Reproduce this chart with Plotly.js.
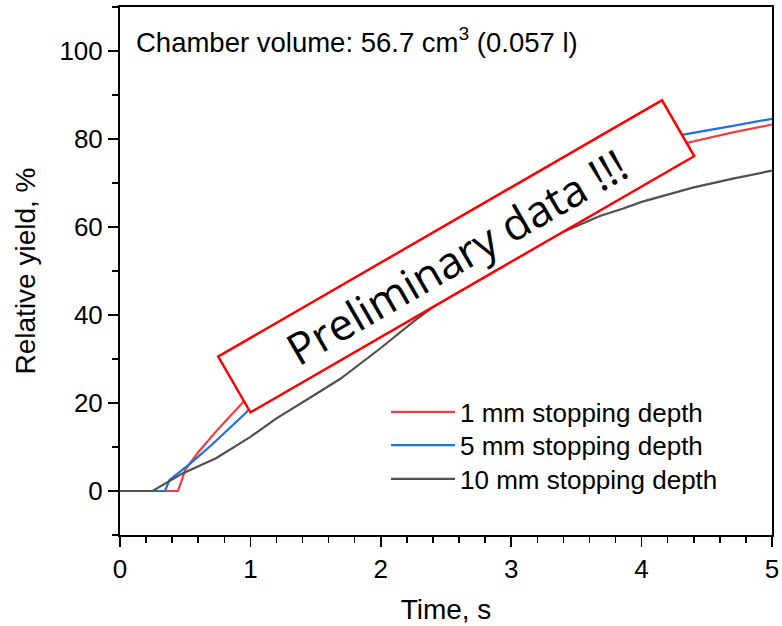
<!DOCTYPE html>
<html>
<head>
<meta charset="utf-8">
<script src="https://cdn.plot.ly/plotly-3.0.1.min.js"></script>
<style>html,body{margin:0;padding:0;background:#fff;}#chart{width:782px;height:626px;}</style>
</head>
<body>
<div id="chart"></div>
<script>
// Series data
const seriesNames = ["1 mm stopping depth", "5 mm stopping depth", "10 mm stopping depth"];
const seriesColors = ["#f23c40", "#1f6fe5", "#505050"];

const x1mm = [0, 0.2, 0.445, 0.5, 0.6, 0.75, 0.94, 1.0, 1.5, 2.0, 2.5, 3.0, 3.5, 4.0, 4.36, 4.7, 5.0];
const y1mm = [0, 0, 0, 4.8, 8.8, 14, 20.2, 22, 33, 44, 54, 63, 70.5, 76, 79.2, 81.5, 83.3];

const x5mm = [0, 0.2, 0.345, 0.38, 0.54, 0.7, 0.97, 1.0, 1.5, 2.0, 2.5, 3.0, 3.5, 4.0, 4.32, 4.7, 5.0];
const y5mm = [0, 0, 0, 2.5, 6.3, 10.4, 17.9, 19, 30, 42, 53, 63, 71, 78, 81, 83, 84.6];

const x10mm = [0, 0.25, 0.48, 0.74, 1.0, 1.2, 1.5, 1.69, 2.0, 2.25, 2.5, 3.0, 3.37, 3.68, 3.86, 4.0, 4.4, 4.7, 5.0];
const y10mm = [0, 0, 4, 7.5, 12.3, 16.5, 22, 25.5, 32.5, 38.5, 44, 53, 58.5, 62.5, 64.2, 65.7, 69, 71, 72.8];

const xTickVals = [0, 1, 2, 3, 4, 5];
const yTickVals = [0, 20, 40, 60, 80, 100];

const xs = [x1mm, x5mm, x10mm];
const ys = [y1mm, y5mm, y10mm];
const legendIds = ["legend", "legend2", "legend3"];
const legendRowY = [0.233, 0.170, 0.106];

const traces = seriesNames.map((n, i) => ({
  x: xs[i], y: ys[i], name: n, type: "scatter", mode: "lines",
  legend: legendIds[i],
  line: {color: seriesColors[i], width: 2.2}
}));

const fontFam = "Liberation Sans, Arial, sans-serif";

const layout = {
  width: 782, height: 626,
  margin: {l: 120, r: 10, t: 7, b: 91},
  paper_bgcolor: "#fff", plot_bgcolor: "#fff",
  font: {family: fontFam, color: "#000", size: 26},
  showlegend: true,
  xaxis: {
    range: [0, 5], tickvals: xTickVals, ticks: "outside", ticklen: 10, tickwidth: 1.5,
    tickcolor: "#000", showline: true, linecolor: "#000", linewidth: 2, mirror: true,
    showgrid: false, zeroline: false,
    tickfont: {family: fontFam, size: 26},
    minor: {dtick: 0.2, ticks: "outside", ticklen: 6, tickcolor: "#000", tickwidth: 1.5, showgrid: false},
    title: {text: "Time, s", font: {family: fontFam, size: 28}, standoff: 16}
  },
  yaxis: {
    range: [-10, 110], tickvals: yTickVals, ticks: "outside", ticklen: 10, tickwidth: 1.5,
    tickcolor: "#000", showline: true, linecolor: "#000", linewidth: 2, mirror: true,
    showgrid: false, zeroline: false,
    tickfont: {family: fontFam, size: 26},
    minor: {dtick: 10, ticks: "outside", ticklen: 6, tickcolor: "#000", tickwidth: 1.5, showgrid: false},
    title: {text: "Relative yield, %", font: {family: fontFam, size: 28}, standoff: 16}
  },
  annotations: [
    {
      xref: "paper", yref: "paper", x: 0.022, y: 0.937, xanchor: "left", yanchor: "middle",
      text: "Chamber volume: 56.7 cm<sup>3</sup> (0.057 l)", showarrow: false,
      font: {family: fontFam, size: 27.5, color: "#000"}
    },
    {
      xref: "x", yref: "y", x: 2.577, y: 53.2, xanchor: "center", yanchor: "middle",
      text: "Preliminary data !!!", showarrow: false, textangle: -30,
      width: 510, height: 62, borderpad: 0, borderwidth: 2.5, bordercolor: "#ff0000",
      bgcolor: "#ffffff",
      font: {family: "Open Sans, sans-serif", size: 44, color: "#000"}
    }
  ]
};

legendIds.forEach((id, i) => {
  layout[id] = {
    x: 0.408, y: legendRowY[i], xanchor: "left", yanchor: "middle",
    bgcolor: "rgba(0,0,0,0)", borderwidth: 0,
    font: {family: fontFam, size: 26, color: "#000"},
    itemwidth: 64
  };
});

Plotly.newPlot("chart", traces, layout, {displayModeBar: false, staticPlot: true});
</script>
</body>
</html>
